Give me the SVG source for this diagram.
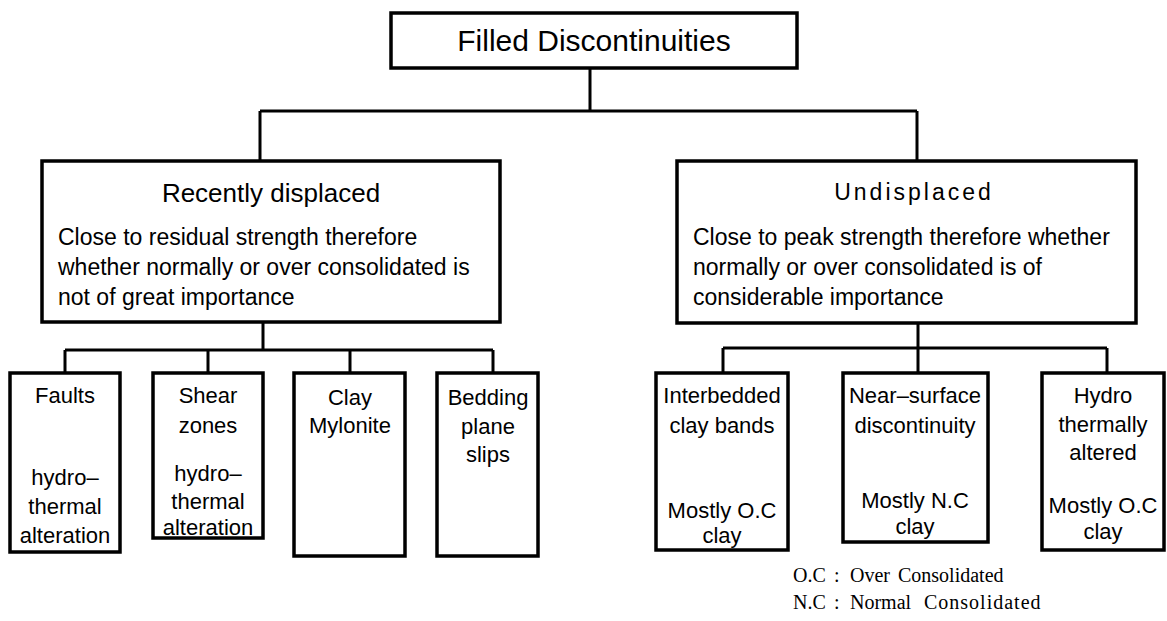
<svg xmlns="http://www.w3.org/2000/svg" width="1167" height="621" viewBox="0 0 1167 621">
<style>
.box{fill:#fff;stroke:#000;stroke-width:3.5}
.ln{fill:none;stroke:#000;stroke-width:3}
.t{font-family:"Liberation Sans",Arial,sans-serif;fill:#000}
.top{font-size:30px;text-anchor:middle}
.h{font-size:26px;text-anchor:middle}
.b{font-size:23px}
.c{font-size:22px;text-anchor:middle}
.lg{font-family:"Liberation Serif","Times New Roman",serif;font-size:20px;fill:#000}
</style>
<rect width="1167" height="621" fill="#fff"/>
<g id="connectors">
<path class="ln" d="M590,68V111M260,111H917M260,111V161M917,111V161"/>
<path class="ln" d="M263,322V350M65,350H493M65,350V373M208,350V373M350,350V373M493,350V373"/>
<path class="ln" d="M918,323V348M723,348H1107M723,348V373M918,348V373M1107,348V373"/>
</g>
<g id="root">
<rect class="box" x="391" y="13" width="406" height="55"/>
<text class="t top" x="594" y="51">Filled Discontinuities</text>
</g>
<g id="recent">
<rect class="box" x="42" y="161" width="458" height="161"/>
<text class="t h" x="271" y="202">Recently displaced</text>
<text class="t b" x="58" y="245">Close to residual strength therefore</text>
<text class="t b" x="58" y="275">whether normally or over consolidated is</text>
<text class="t b" x="58" y="305">not of great importance</text>
</g>
<g id="undisplaced">
<rect class="box" x="677" y="161" width="459" height="162"/>
<text class="t h" x="914" y="200" style="font-size:23px;letter-spacing:3px">Undisplaced</text>
<text class="t b" x="693" y="245">Close to peak strength therefore whether</text>
<text class="t b" x="693" y="275">normally or over consolidated is of</text>
<text class="t b" x="693" y="305">considerable importance</text>
</g>
<g id="faults">
<rect class="box" x="10" y="373" width="110" height="179"/>
<text class="t c" x="65" y="403">Faults</text>
<text class="t c" x="65" y="485">hydro–</text>
<text class="t c" x="65" y="514">thermal</text>
<text class="t c" x="65" y="543">alteration</text>
</g>
<g id="shear">
<rect class="box" x="153" y="373" width="110" height="165"/>
<text class="t c" x="208" y="403">Shear</text>
<text class="t c" x="208" y="433">zones</text>
<text class="t c" x="208" y="481">hydro–</text>
<text class="t c" x="208" y="509">thermal</text>
<text class="t c" x="208" y="535">alteration</text>
</g>
<g id="clay">
<rect class="box" x="294" y="373" width="111" height="183"/>
<text class="t c" x="350" y="405">Clay</text>
<text class="t c" x="350" y="433">Mylonite</text>
</g>
<g id="bedding">
<rect class="box" x="437" y="373" width="101" height="183"/>
<text class="t c" x="488" y="405">Bedding</text>
<text class="t c" x="488" y="434">plane</text>
<text class="t c" x="488" y="462">slips</text>
</g>
<g id="interbedded">
<rect class="box" x="656" y="373" width="132" height="177"/>
<text class="t c" x="722" y="403">Interbedded</text>
<text class="t c" x="722" y="433">clay bands</text>
<text class="t c" x="722" y="518">Mostly O.C</text>
<text class="t c" x="722" y="543">clay</text>
</g>
<g id="nearsurface">
<rect class="box" x="843" y="373" width="145" height="169"/>
<text class="t c" x="915" y="403">Near–surface</text>
<text class="t c" x="915" y="433">discontinuity</text>
<text class="t c" x="915" y="508">Mostly N.C</text>
<text class="t c" x="915" y="534">clay</text>
</g>
<g id="hydro">
<rect class="box" x="1042" y="373" width="122" height="177"/>
<text class="t c" x="1103" y="403">Hydro</text>
<text class="t c" x="1103" y="432">thermally</text>
<text class="t c" x="1103" y="460">altered</text>
<text class="t c" x="1103" y="513">Mostly O.C</text>
<text class="t c" x="1103" y="539">clay</text>
</g>
<g id="legend">
<text class="lg" y="582"><tspan x="793">O.C </tspan><tspan x="834">: </tspan><tspan x="850">Over </tspan><tspan x="898">Consolidated</tspan></text>
<text class="lg" y="609" style="word-spacing:2px"><tspan x="793">N.C </tspan><tspan x="834">: </tspan><tspan x="850">Normal </tspan><tspan x="924" style="letter-spacing:1px">Consolidated</tspan></text>
</g>
</svg>
